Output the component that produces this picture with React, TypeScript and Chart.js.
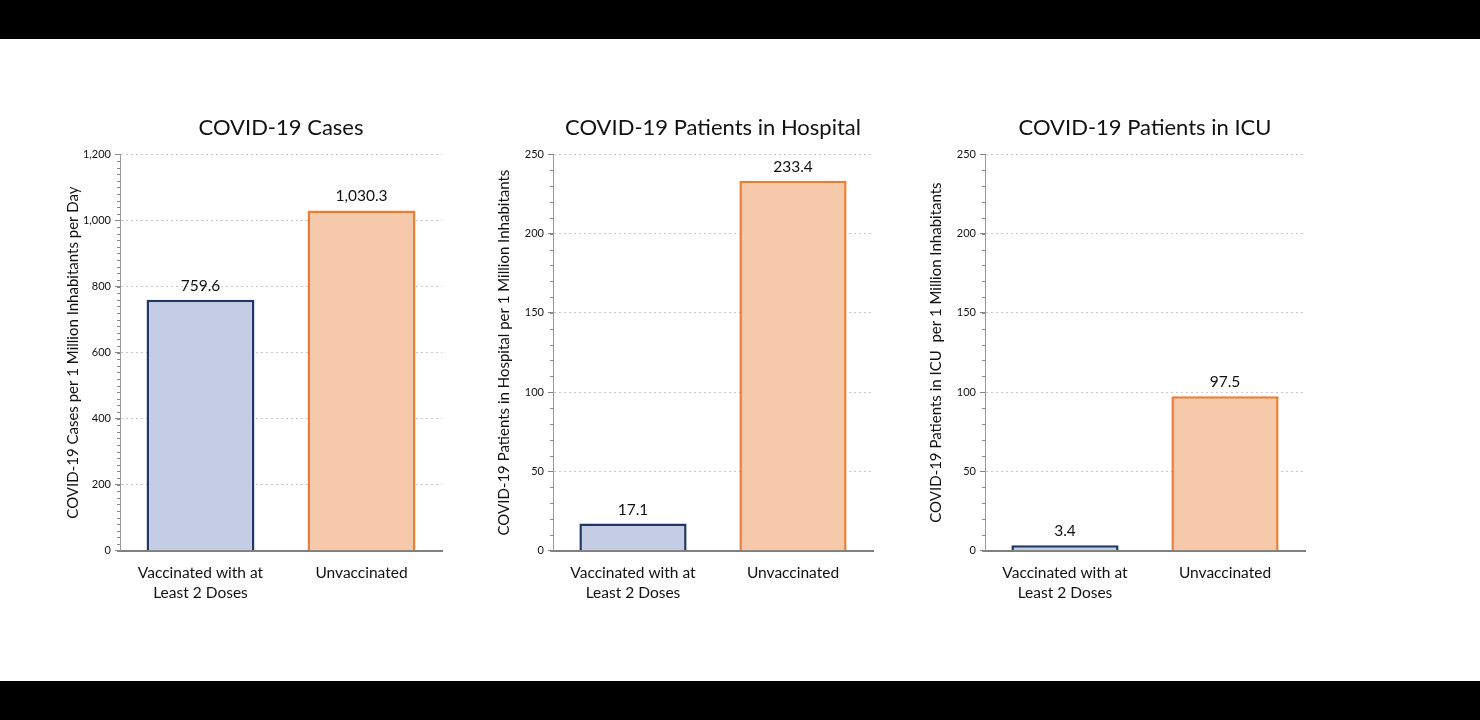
import React, { useEffect, useRef } from "react";
import { Chart, registerables } from "chart.js";

Chart.register(...registerables);

const categories: (string | string[])[] = [["Vaccinated with at", "Least 2 Doses"], "Unvaccinated"];

const casesValues = [759.6, 1030.3];
const hospitalValues = [17.1, 233.4];
const icuValues = [3.4, 97.5];

const chartTitles = ["COVID-19 Cases", "COVID-19 Patients in Hospital", "COVID-19 Patients in ICU"];
const axisTitles = [
  "COVID-19 Cases per 1 Million Inhabitants per Day",
  "COVID-19 Patients in Hospital per 1 Million Inhabitants",
  "COVID-19 Patients in ICU  per 1 Million Inhabitants",
];
const axisMax = [1200, 250, 250];
const axisStep = [200, 50, 50];
const minorStep = [20, 10, 10];

const FONT = "Lato, 'Open Sans', sans-serif";
const fillColors = ["#c5cde4", "#f7c9ab"];
const borderColors = ["#1f3864", "#ed7d31"];

const fmt = (v: number) =>
  v.toLocaleString("en-US", { minimumFractionDigits: 1, maximumFractionDigits: 1 });

const valueLabels = {
  id: "valueLabels",
  afterDatasetsDraw(chart: any) {
    const ctx = chart.ctx;
    const meta = chart.getDatasetMeta(0);
    const data = chart.data.datasets[0].data as number[];
    ctx.save();
    ctx.font = `15.5px ${FONT}`;
    ctx.fillStyle = "#111";
    ctx.textAlign = "center";
    ctx.textBaseline = "middle";
    meta.data.forEach((bar: any, i: number) => {
      ctx.fillText(fmt(data[i]), bar.x, bar.y - 14);
    });
    ctx.restore();
  },
};

const minorTicks = {
  id: "minorTicks",
  afterDraw(chart: any, _args: any, opts: any) {
    const y = chart.scales.y;
    const ctx = chart.ctx;
    ctx.save();
    ctx.strokeStyle = "#888";
    ctx.lineWidth = 1;
    const step = opts.step as number;
    for (let v = y.min; v <= y.max + 1e-9; v += step) {
      const py = Math.round(y.getPixelForValue(v)) + 0.5;
      ctx.beginPath();
      ctx.moveTo(y.right - 3, py);
      ctx.lineTo(y.right, py);
      ctx.stroke();
    }
    ctx.restore();
  },
};

function BarPanel({ idx, values, left, axisWidth }: { idx: number; values: number[]; left: number; axisWidth: number }) {
  const ref = useRef<HTMLCanvasElement | null>(null);
  useEffect(() => {
    if (!ref.current) return;
    const chart = new Chart(ref.current, {
      type: "bar",
      data: {
        labels: categories,
        datasets: [
          {
            data: values,
            backgroundColor: fillColors,
            borderColor: borderColors,
            borderWidth: 2.5,
            borderSkipped: "start",
            barPercentage: 0.67,
            categoryPercentage: 1,
          },
        ],
      },
      plugins: [valueLabels, minorTicks],
      options: {
        animation: false,
        responsive: false,
        devicePixelRatio: 1,
        layout: { padding: { top: 15, right: 18, bottom: 9, left: 0 } },
        plugins: {
          legend: { display: false },
          tooltip: { enabled: false },
          title: {
            display: true,
            text: chartTitles[idx],
            fullSize: false,
            color: "#111",
            font: { family: FONT, size: 22, weight: "normal" },
            padding: { top: 0, bottom: 13 },
          },
          minorTicks: { step: minorStep[idx] },
        } as any,
        scales: {
          x: {
            grid: { display: false, drawTicks: false },
            border: { color: "#808080", width: 2 },
            ticks: {
              color: "#111",
              padding: 12,
              font: { family: FONT, size: 15.5, lineHeight: 1.3 },
              maxRotation: 0,
            },
          },
          y: {
            min: 0,
            max: axisMax[idx],
            afterFit: (s: any) => {
              s.width = axisWidth;
            },
            grid: {
              color: "#c8c8c8",
              tickColor: "#888",
              tickLength: 5,
              lineWidth: 1,
            },
            border: { color: "#999", width: 1, dash: [2, 3] },
            ticks: {
              stepSize: axisStep[idx],
              color: "#111",
              padding: 4,
              font: { family: FONT, size: 11 },
              callback: (v: any) => Number(v).toLocaleString("en-US"),
            },
            title: {
              display: true,
              text: axisTitles[idx],
              color: "#111",
              font: { family: FONT, size: 15 },
              padding: { top: 4, bottom: 0 },
            },
          },
        },
      } as any,
    });
    return () => chart.destroy();
  }, []);
  return (
    <canvas
      ref={ref}
      width={400}
      height={524}
      style={{ position: "absolute", left, top: 100, width: 400, height: 524 }}
    />
  );
}

export default function App() {
  return (
    <div style={{ position: "fixed", left: 0, top: 0, width: 1480, height: 720, background: "#000" }}>
      <div style={{ position: "absolute", left: 0, top: 39, width: 1480, height: 642, background: "#fff" }} />
      <BarPanel idx={0} values={casesValues} left={60} axisWidth={60} />
      <BarPanel idx={1} values={hospitalValues} left={491} axisWidth={62} />
      <BarPanel idx={2} values={icuValues} left={923} axisWidth={62} />
    </div>
  );
}
